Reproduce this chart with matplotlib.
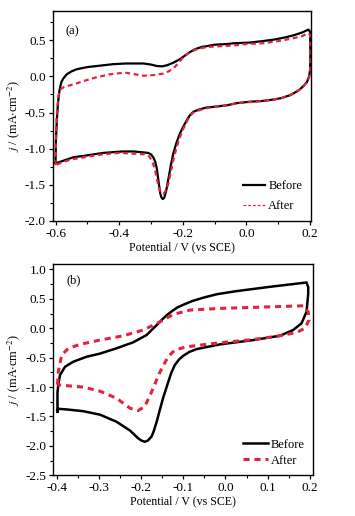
import matplotlib
matplotlib.use("Agg")
import matplotlib.pyplot as plt
from matplotlib.ticker import MultipleLocator, FormatStrFormatter

plt.rcParams['font.family'] = ['Liberation Serif', 'DejaVu Serif']
plt.rcParams['mathtext.fontset'] = 'stix'
plt.rcParams['axes.unicode_minus'] = False

RED = '#e3233c'

# ---- panel (a): CV before / after ----
a_before_x = [-0.600, -0.599, -0.596, -0.592, -0.588, -0.582, -0.576, -0.565, -0.550, -0.534,
              -0.500, -0.460, -0.420, -0.377, -0.350, -0.324, -0.300, -0.282, -0.265, -0.250,
              -0.230, -0.209, -0.190, -0.177, -0.160, -0.140, -0.125, -0.100, -0.060, -0.041,
              0.011, 0.050, 0.085, 0.120, 0.148, 0.175, 0.195, 0.200, 0.201, 0.201,
              0.200, 0.197, 0.190, 0.180, 0.165, 0.150, 0.137, 0.110, 0.085, 0.050,
              0.011, -0.030, -0.062, -0.100, -0.125, -0.150, -0.167, -0.178, -0.188, -0.199,
              -0.209, -0.220, -0.230, -0.238, -0.246, -0.252, -0.258, -0.263, -0.267, -0.271,
              -0.274, -0.278, -0.282, -0.287, -0.293, -0.300, -0.309, -0.330, -0.356, -0.390,
              -0.420, -0.450, -0.480, -0.510, -0.544, -0.570, -0.597, -0.600]
a_before_y = [-1.20, -0.90, -0.60, -0.35, -0.20, -0.08, -0.03, 0.03, 0.07, 0.10,
              0.13, 0.15, 0.17, 0.18, 0.18, 0.18, 0.165, 0.145, 0.14, 0.155,
              0.19, 0.24, 0.30, 0.34, 0.38, 0.41, 0.42, 0.44, 0.45, 0.46,
              0.47, 0.49, 0.51, 0.54, 0.57, 0.61, 0.65, 0.62, 0.40, 0.20,
              0.08, 0.00, -0.08, -0.13, -0.19, -0.23, -0.26, -0.30, -0.32, -0.34,
              -0.35, -0.37, -0.40, -0.42, -0.43, -0.46, -0.49, -0.54, -0.61, -0.70,
              -0.79, -0.92, -1.07, -1.24, -1.44, -1.58, -1.68, -1.70, -1.68, -1.62,
              -1.53, -1.40, -1.27, -1.18, -1.12, -1.08, -1.06, -1.05, -1.04, -1.04,
              -1.05, -1.06, -1.08, -1.10, -1.12, -1.16, -1.20, -1.20]

a_after_x = [-0.600, -0.599, -0.597, -0.594, -0.590, -0.585, -0.575, -0.560, -0.530, -0.502,
             -0.470, -0.429, -0.400, -0.377, -0.350, -0.324, -0.290, -0.261, -0.245, -0.230,
             -0.215, -0.198, -0.180, -0.160, -0.146, -0.120, -0.080, -0.040, 0.000, 0.050,
             0.100, 0.148, 0.175, 0.195, 0.200, 0.201, 0.201, 0.200, 0.197, 0.190,
             0.180, 0.165, 0.150, 0.137, 0.110, 0.085, 0.050, 0.011, -0.030, -0.062,
             -0.100, -0.125, -0.150, -0.167, -0.178, -0.188, -0.199, -0.209, -0.220, -0.230,
             -0.238, -0.246, -0.253, -0.261, -0.267, -0.274, -0.280, -0.287, -0.295, -0.305,
             -0.320, -0.356, -0.400, -0.430, -0.470, -0.510, -0.550, -0.580, -0.600]
a_after_y = [-1.23, -0.95, -0.65, -0.40, -0.25, -0.18, -0.15, -0.13, -0.09, -0.05,
             -0.01, 0.03, 0.045, 0.05, 0.03, 0.01, 0.02, 0.04, 0.07, 0.11,
             0.18, 0.27, 0.33, 0.37, 0.39, 0.41, 0.42, 0.43, 0.45, 0.46,
             0.49, 0.53, 0.56, 0.60, 0.58, 0.40, 0.20, 0.07, -0.01, -0.08,
             -0.13, -0.19, -0.23, -0.26, -0.30, -0.32, -0.34, -0.355, -0.37, -0.40,
             -0.42, -0.44, -0.47, -0.50, -0.55, -0.63, -0.73, -0.84, -0.99, -1.16,
             -1.33, -1.49, -1.58, -1.63, -1.62, -1.56, -1.45, -1.30, -1.19, -1.11,
             -1.08, -1.07, -1.06, -1.07, -1.09, -1.12, -1.15, -1.19, -1.23]

# ---- panel (b): CV before / after ----
b_before_x = [-0.398, -0.398, -0.396, -0.392, -0.380, -0.361, -0.329, -0.297, -0.258, -0.219,
              -0.187, -0.175, -0.163, -0.150, -0.139, -0.127, -0.115, -0.100, -0.080, -0.053,
              -0.020, 0.026, 0.105, 0.192, 0.196, 0.196, 0.192, 0.180, 0.160, 0.129,
              0.066, -0.013, -0.068, -0.085, -0.100, -0.110, -0.120, -0.128, -0.135, -0.148,
              -0.156, -0.163, -0.170, -0.175, -0.184, -0.191, -0.199, -0.207, -0.226, -0.258,
              -0.297, -0.337, -0.376, -0.396, -0.399, -0.398]
b_before_y = [-1.42, -1.10, -0.95, -0.795, -0.654, -0.57, -0.484, -0.43, -0.34, -0.24,
              -0.115, -0.03, 0.054, 0.15, 0.224, 0.29, 0.35, 0.40, 0.46, 0.52,
              0.58, 0.632, 0.705, 0.779, 0.70, 0.59, 0.28, 0.083, -0.03, -0.127,
              -0.20, -0.274, -0.353, -0.40, -0.467, -0.53, -0.625, -0.75, -0.90, -1.19,
              -1.40, -1.59, -1.75, -1.84, -1.91, -1.93, -1.91, -1.87, -1.74, -1.59,
              -1.47, -1.41, -1.38, -1.37, -1.40, -1.42]

b_after_x = [-0.398, -0.396, -0.388, -0.372, -0.345, -0.297, -0.242, -0.195, -0.155, -0.124,
             -0.084, -0.013, 0.105, 0.184, 0.196, 0.198, 0.188, 0.169, 0.129, 0.066,
             -0.013, -0.092, -0.120, -0.136, -0.155, -0.175, -0.191, -0.207, -0.226, -0.258,
             -0.297, -0.337, -0.376, -0.398]
b_after_y = [-0.96, -0.74, -0.455, -0.34, -0.274, -0.20, -0.127, -0.03, 0.11, 0.236,
             0.31, 0.338, 0.365, 0.382, 0.28, 0.14, 0.00, -0.07, -0.127, -0.19,
             -0.246, -0.314, -0.37, -0.484, -0.74, -1.08, -1.33, -1.40, -1.36, -1.19,
             -1.07, -1.00, -0.976, -0.96]

fig = plt.figure(figsize=(3.55, 5.16), dpi=100)
ax1 = fig.add_axes([0.1485, 0.5723, 0.7275, 0.4067])
ax2 = fig.add_axes([0.150, 0.0789, 0.7325, 0.4091])

ax1.plot(a_before_x, a_before_y, color='black', lw=1.6, label='Before')
ax1.plot(a_after_x, a_after_y, color=RED, lw=1.6, ls=(0, (2.2, 1.6)), label='After')
ax1.set_xlim(-0.609, 0.203)
ax1.set_ylim(-2.0, 0.91)
ax1.xaxis.set_major_locator(MultipleLocator(0.2))
ax1.xaxis.set_minor_locator(MultipleLocator(0.1))
ax1.yaxis.set_major_locator(MultipleLocator(0.5))
ax1.yaxis.set_minor_locator(MultipleLocator(0.25))
ax1.text(0.05, 0.93, '(a)', transform=ax1.transAxes, fontsize=9, va='top')
leg1 = ax1.legend(loc='lower right', frameon=False, fontsize=9, handlelength=1.7,
                  handletextpad=0.3, labelspacing=0.6, borderaxespad=0.3)
leg1.get_lines()[1].set_linewidth(0.9)

ax2.plot(b_before_x, b_before_y, color='black', lw=1.8, label='Before')
ax2.plot(b_after_x, b_after_y, color=RED, lw=2.2, ls=(0, (2.0, 1.6)), label='After')
ax2.set_xlim(-0.408, 0.208)
ax2.set_ylim(-2.5, 1.09)
ax2.xaxis.set_major_locator(MultipleLocator(0.1))
ax2.xaxis.set_minor_locator(MultipleLocator(0.05))
ax2.yaxis.set_major_locator(MultipleLocator(0.5))
ax2.yaxis.set_minor_locator(MultipleLocator(0.25))
ax2.text(0.05, 0.95, '(b)', transform=ax2.transAxes, fontsize=9, va='top')
ax2.legend(loc='lower right', frameon=False, fontsize=9, handlelength=2.0,
           handletextpad=0.2, labelspacing=0.3, borderaxespad=0.3)

for ax in (ax1, ax2):
    ax.xaxis.set_major_formatter(FormatStrFormatter('%.1f'))
    ax.yaxis.set_major_formatter(FormatStrFormatter('%.1f'))
    ax.tick_params(which='major', direction='out', length=3, width=0.9, labelsize=9.5, pad=2)
    ax.tick_params(which='minor', direction='out', length=2, width=0.8)
    for s in ax.spines.values():
        s.set_linewidth(1.0)
    ax.set_xlabel('Potential / V (vs SCE)', fontsize=8.6, labelpad=1)
    ax.set_ylabel(r'$j$ / (mA$\cdot$cm$^{-2}$)', fontsize=8.8, labelpad=2)

fig.savefig('out.png', dpi=100)
